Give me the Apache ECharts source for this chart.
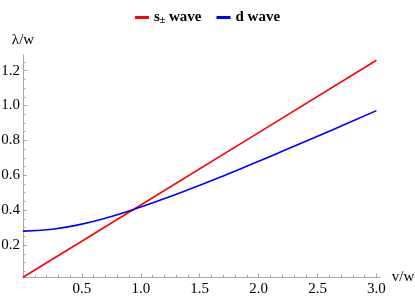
<!DOCTYPE html>
<html>
<head>
<meta charset="utf-8">
<script src="https://cdn.jsdelivr.net/npm/echarts@6/dist/echarts.min.js"></script>
<style>
  html, body { margin: 0; padding: 0; background: #fff; }
  #chart { width: 415px; height: 300px; }
</style>
</head>
<body>
<div id="chart"></div>
<script>
// 数据
var redV = [0, 1, 2, 3];
var redVals = [0.015, 0.43, 0.845, 1.26];
var blueV = [0, 0.25, 0.5, 0.75, 1, 1.25, 1.5, 1.75, 2, 2.25, 2.5, 2.75, 3];
var blueVals = [0.28, 0.291, 0.32, 0.364, 0.418, 0.478, 0.543, 0.611, 0.68, 0.752, 0.824, 0.897, 0.971];
var xMajor = [0.5, 1, 1.5, 2, 2.5, 3];
var xMinor = [0.1, 0.2, 0.3, 0.4, 0.6, 0.7, 0.8, 0.9, 1.1, 1.2, 1.3, 1.4, 1.6, 1.7, 1.8, 1.9,
  2.1, 2.2, 2.3, 2.4, 2.6, 2.7, 2.8, 2.9];
var yMajor = [0.2, 0.4, 0.6, 0.8, 1.0, 1.2];
var yMinor = [0.05, 0.1, 0.15, 0.25, 0.3, 0.35, 0.45, 0.5, 0.55, 0.65, 0.7, 0.75, 0.85, 0.9, 0.95,
  1.05, 1.1, 1.15, 1.25];
var names = ['s\u00b1 wave', 'd wave'];

var gridLeft = 23, gridRight = 35, gridTop = 55, gridBottom = 22.7;
var gridW = 415 - gridLeft - gridRight;
var gridH = 300 - gridTop - gridBottom;
var axisColor = '#a8a8a8';
var serif = 'Liberation Serif';

function pairs(xs, ys) {
  var out = [];
  for (var i = 0; i < xs.length; i++) out.push([xs[i], ys[i]]);
  return out;
}
function fmt(v) { return v.toFixed(1); }

var chart = echarts.init(document.getElementById('chart'), null, { renderer: 'canvas' });

// 次刻度用第二根轴画（透明轴线，挪到网格另一侧）
var option = {
  animation: false,
  legend: {
    top: 5,
    left: 'center',
    icon: 'rect',
    itemWidth: 14,
    itemHeight: 3,
    itemGap: 15,
    data: names,
    formatter: function (name) {
      if (name === names[0]) return '{n|s}{sub|\u00b1}{n| wave}';
      return '{n|' + name + '}';
    },
    textStyle: {
      rich: {
        n: { fontFamily: serif, fontWeight: 'bold', fontSize: 15, color: '#000', verticalAlign: 'bottom', lineHeight: 15 },
        sub: { fontFamily: serif, fontWeight: 'bold', fontSize: 10, color: '#000', verticalAlign: 'bottom', lineHeight: 5 }
      }
    }
  },
  grid: {
    left: gridLeft, right: gridRight, top: gridTop, bottom: gridBottom,
    containLabel: false, outerBoundsMode: 'none'
  },
  xAxis: [{
    type: 'value', min: 0, max: 3.03, position: 'bottom',
    name: 'v/w', nameLocation: 'end', nameGap: 6,
    nameTextStyle: { fontFamily: serif, fontSize: 15, color: '#000', padding: [0, 0, 6, 0] },
    axisLine: { onZero: false, lineStyle: { color: axisColor, width: 1 } },
    axisTick: { show: true, inside: true, length: 4, customValues: xMajor, lineStyle: { color: axisColor } },
    axisLabel: { customValues: xMajor, formatter: fmt, margin: 4, fontFamily: serif, fontSize: 15, color: '#000' },
    splitLine: { show: false }
  }, {
    type: 'value', min: 0, max: 3.03, position: 'top', offset: -gridH,
    axisLine: { show: true, onZero: false, lineStyle: { color: 'rgba(0,0,0,0)' } },
    axisTick: { show: true, length: 2.5, customValues: xMinor, lineStyle: { color: axisColor } },
    axisLabel: { show: false },
    splitLine: { show: false }
  }],
  yAxis: [{
    type: 'value', min: 0.015, max: 1.29, position: 'left',
    name: '\u03bb/w', nameLocation: 'end', nameGap: 7,
    nameTextStyle: { fontFamily: serif, fontSize: 15, color: '#000', align: 'center' },
    axisLine: { onZero: false, lineStyle: { color: axisColor, width: 1 } },
    axisTick: { show: true, inside: true, length: 4, customValues: yMajor, lineStyle: { color: axisColor } },
    axisLabel: { customValues: yMajor, formatter: fmt, margin: 3, fontFamily: serif, fontSize: 15, color: '#000' },
    splitLine: { show: false }
  }, {
    type: 'value', min: 0.015, max: 1.29, position: 'right', offset: -gridW,
    axisLine: { show: true, onZero: false, lineStyle: { color: 'rgba(0,0,0,0)' } },
    axisTick: { show: true, length: 2.5, customValues: yMinor, lineStyle: { color: axisColor } },
    axisLabel: { show: false },
    splitLine: { show: false }
  }],
  series: [{
    name: names[0],
    type: 'line',
    symbol: 'none',
    color: '#ff0000',
    lineStyle: { color: '#ff0000', width: 1.6 },
    data: pairs(redV, redVals)
  }, {
    name: names[1],
    type: 'line',
    symbol: 'none',
    smooth: true,
    color: '#0000ff',
    lineStyle: { color: '#0000ff', width: 1.6 },
    data: pairs(blueV, blueVals)
  }]
};

chart.setOption(option);
</script>
</body>
</html>
